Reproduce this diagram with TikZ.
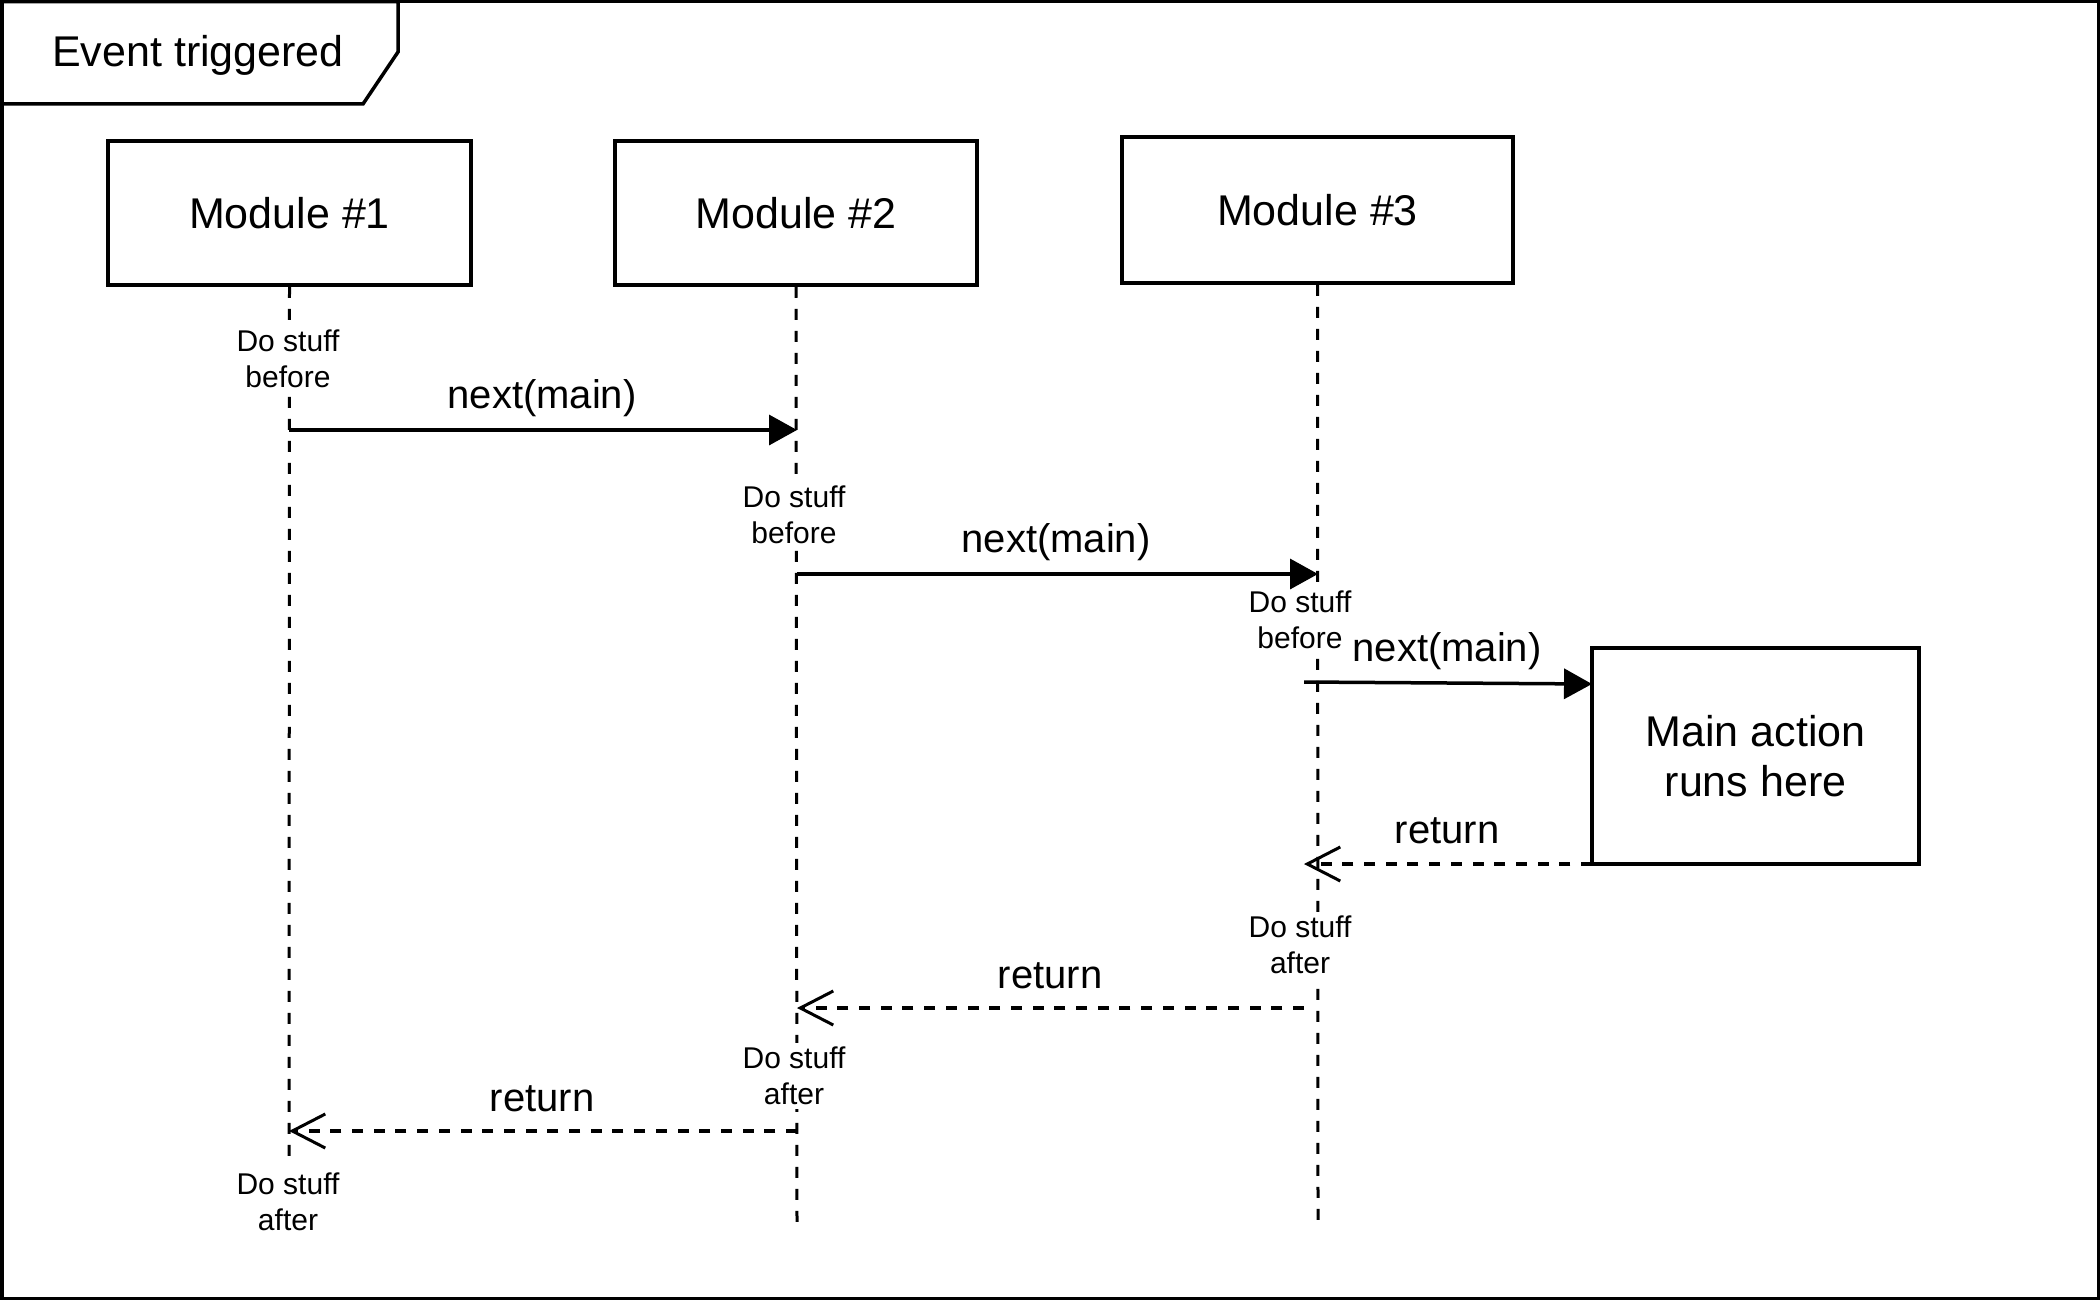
\documentclass[tikz,border=0pt]{standalone}
\usepackage{fontspec}
\setmainfont{Liberation Sans}
\usetikzlibrary{arrows.meta}
\begin{document}
\begin{tikzpicture}[x=1pt,y=-1pt,
  modbox/.style={draw,line width=3.5pt,inner sep=0pt,align=center,font=\fontsize{43}{50}\selectfont},
  lifeline/.style={line width=3pt,dash pattern=on 11pt off 11pt},
  stufflbl/.style={fill=white,inner sep=4pt,align=center,font=\fontsize{30}{36}\selectfont},
  msglbl/.style={inner sep=0pt,font=\fontsize{40}{46}\selectfont},
  callarr/.style={line width=3.5pt,-{Triangle[length=28pt,width=30pt]}},
  retarr/.style={line width=3.5pt,dash pattern=on 11pt off 10.7pt,-{Straight Barb[length=33pt,width=34pt,line width=3pt]}}
]
\useasboundingbox (0,0) rectangle (2100,1300);
\fill[white] (0,0) rectangle (2100,1300);
% frame
\draw[line width=3.5pt] (1.75,1.75) rectangle (2098.25,1298.25);
\draw[line width=3.5pt,line join=miter] (1.75,1.75) -- (398,1.75) -- (398,52) -- (363,104) -- (1.75,104);
\node[anchor=base west,inner sep=0pt,font=\fontsize{43}{50}\selectfont] (title) at (52,67) {Event triggered};

% modules
\node[modbox,minimum width=363pt,minimum height=144pt] (m1) at (289.5,213) {Module \#1};
\node[modbox,minimum width=362pt,minimum height=144pt] (m2) at (796,213) {Module \#2};
\node[modbox,minimum width=391pt,minimum height=146pt] (m3) at (1317.5,210) {Module \#3};
\node[modbox,minimum width=327pt,minimum height=216pt] (main) at (1755.5,756) {Main action\\ runs here};

% lifeline ends
\coordinate (e1) at (289,1165);
\coordinate (e2) at (797,1227);
\coordinate (e3) at (1318,1227);
\draw[lifeline] (m1.south) -- (e1);
\draw[lifeline] (m2.south) -- (e2);
\draw[lifeline] (m3.south) -- (e3);

% stuff labels
\node[stufflbl] (l1b) at (288,359) {Do stuff\\before};
\node[stufflbl] (l2b) at (794,515) {Do stuff\\before};
\node[stufflbl] (l3b) at (1300,620) {Do stuff\\before};
\node[stufflbl] (l3a) at (1300,945) {Do stuff\\after};
\node[stufflbl] (l2a) at (794,1076) {Do stuff\\after};
\node[stufflbl] (l1a) at (288,1202) {Do stuff\\after};

% message points
\coordinate (c1s) at (289,430);
\coordinate (c1e) at (797,430);
\coordinate (c2s) at (797,574);
\coordinate (c2e) at (1318,574);
\coordinate (c3s) at (1304,682);
\coordinate (c3e) at (1592,684);
\coordinate (r1s) at (1592,864);
\coordinate (r1e) at (1304,864);
\coordinate (r2s) at (1304,1008);
\coordinate (r2e) at (797,1008);
\coordinate (r3s) at (797,1131);
\coordinate (r3e) at (289,1131);

\draw[callarr] (c1s) -- (c1e);
\draw[callarr] (c2s) -- (c2e);
\draw[callarr] (c3s) -- (c3e);
\draw[retarr] (r1s) -- (r1e);
\draw[retarr] (r2s) -- (r2e);
\draw[retarr] (r3s) -- (r3e);

\node[msglbl] (t1) at (542,398) {next(main)};
\node[msglbl] (t2) at (1056,542) {next(main)};
\node[msglbl] (t3) at (1447,651) {next(main)};
\node[msglbl] (t4) at (1447,831) {return};
\node[msglbl] (t5) at (1050,976) {return};
\node[msglbl] (t6) at (542,1099) {return};
\end{tikzpicture}
\end{document}
